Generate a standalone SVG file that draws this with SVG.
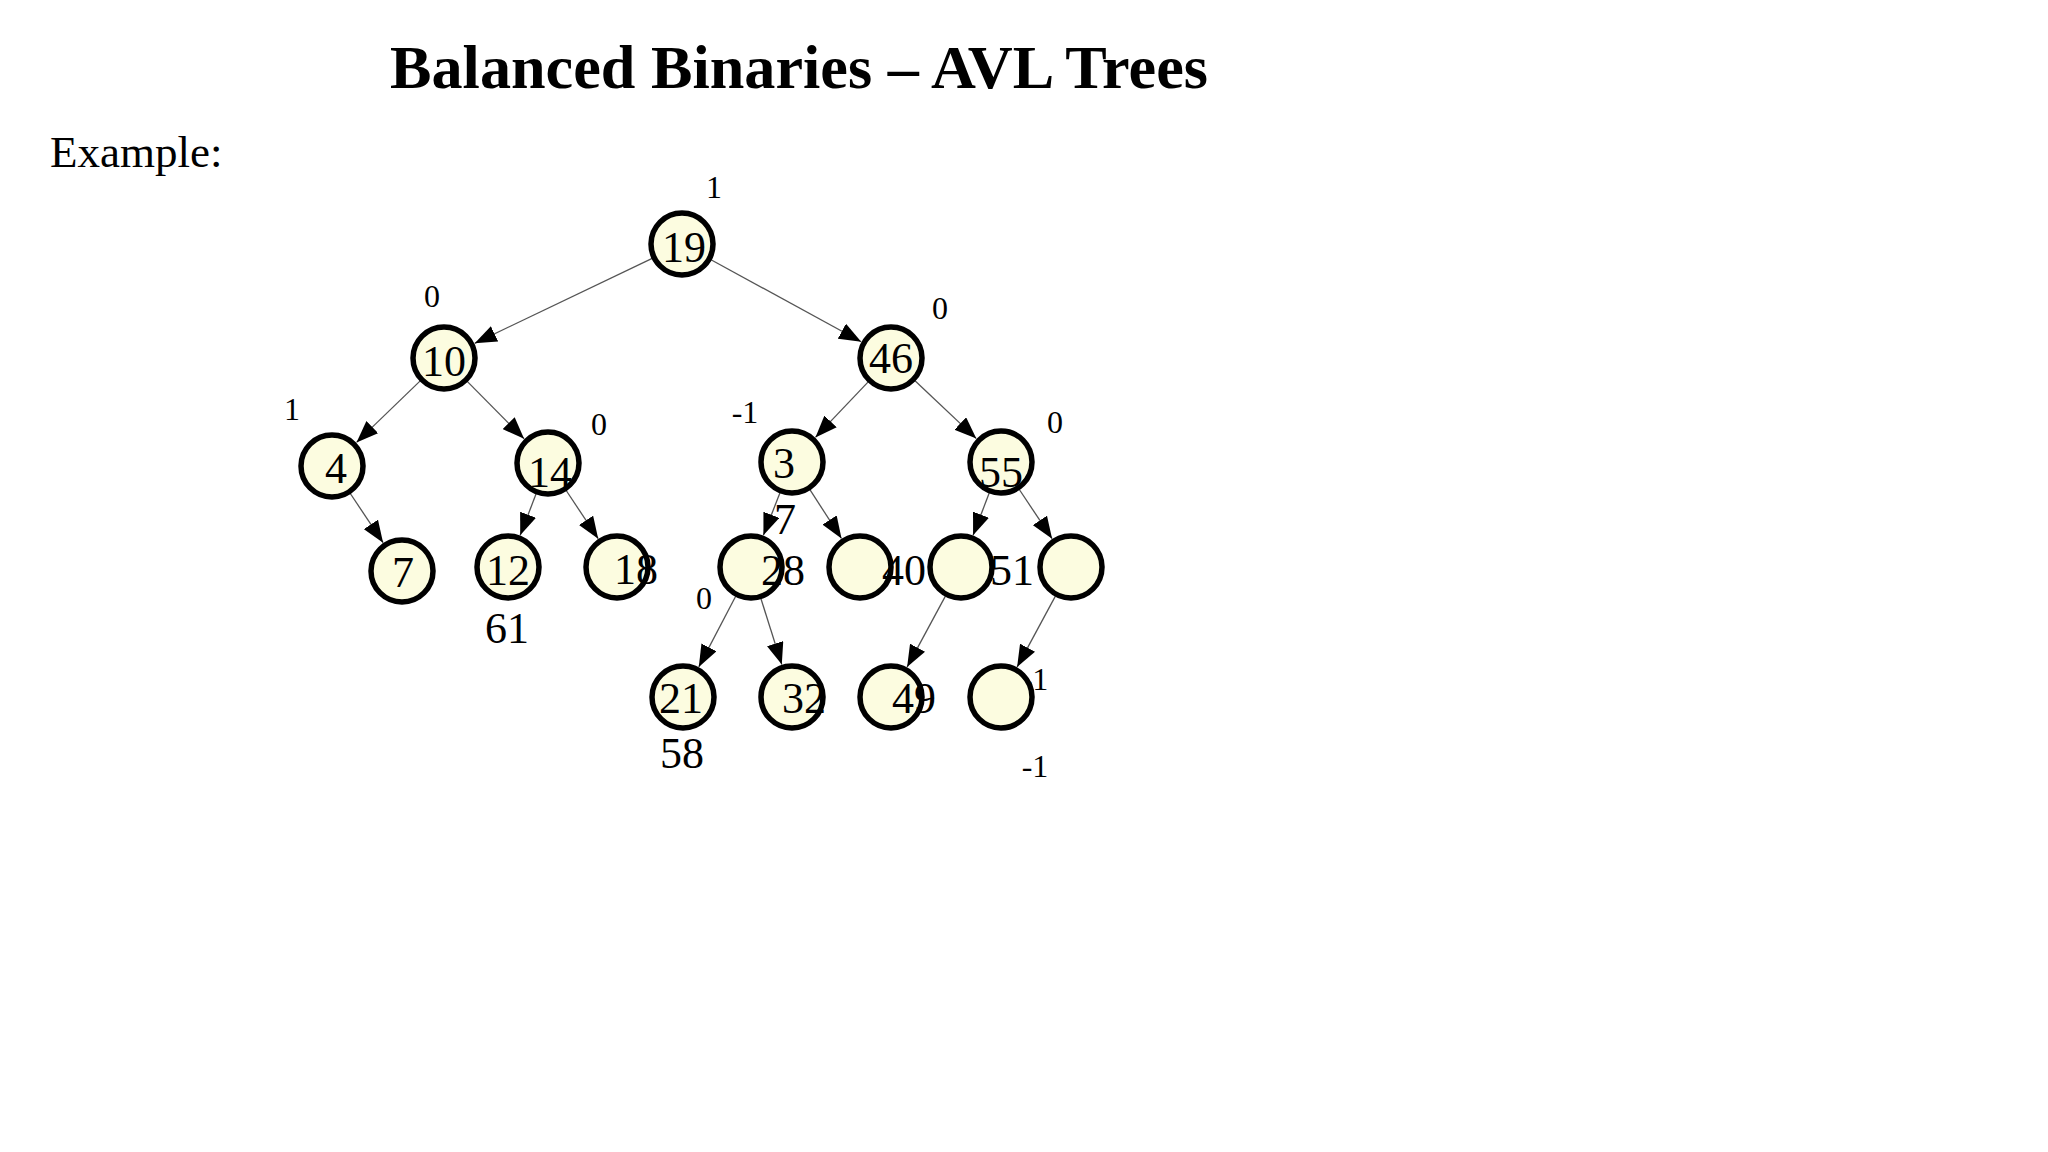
<svg xmlns="http://www.w3.org/2000/svg" width="2048" height="1152" viewBox="0 0 2048 1152">
<style>
.title{font-family:"Liberation Serif","Times New Roman",serif;font-weight:bold;font-size:62px;fill:#000}
.sub{font-family:"Liberation Serif","Times New Roman",serif;font-size:45px;fill:#000}
.node circle{fill:#FCFCE0;stroke:#000;stroke-width:5.5}
.lbl{font-family:"Liberation Serif","Times New Roman",serif;font-size:44px;fill:#000;text-anchor:middle}
.bf{font-family:"Liberation Serif","Times New Roman",serif;font-size:32px;fill:#000;text-anchor:middle}
.edges line{stroke:#555;stroke-width:1.3;marker-end:url(#arr)}
</style>
<defs>
<marker id="arr" markerUnits="userSpaceOnUse" markerWidth="22" markerHeight="17" refX="22" refY="8.5" orient="auto">
<path d="M0,0 L22,8.5 L0,17 z" fill="#000"/>
</marker>
</defs>
<rect width="2048" height="1152" fill="#fff"/>
<text class="title" x="390" y="88" textLength="818" lengthAdjust="spacingAndGlyphs">Balanced Binaries – AVL Trees</text>
<text class="sub" x="50" y="167">Example:</text>

<g id="connectors" class="edges">
<line x1="652.2" y1="258.3" x2="474.7" y2="343.3"/>
<line x1="711.0" y1="259.8" x2="861.2" y2="341.7"/>
<line x1="420.2" y1="380.9" x2="356.5" y2="442.4"/>
<line x1="467.2" y1="381.4" x2="524.1" y2="438.8"/>
<line x1="868.2" y1="381.9" x2="815.4" y2="437.4"/>
<line x1="915.0" y1="380.7" x2="976.3" y2="438.6"/>
<line x1="350.3" y1="493.5" x2="383.1" y2="542.7"/>
<line x1="536.1" y1="493.8" x2="520.2" y2="535.3"/>
<line x1="566.2" y1="490.5" x2="598.2" y2="538.7"/>
<line x1="780.0" y1="492.7" x2="763.4" y2="535.3"/>
<line x1="809.9" y1="489.7" x2="841.5" y2="538.5"/>
<line x1="989.3" y1="492.8" x2="973.1" y2="535.2"/>
<line x1="1019.3" y1="489.5" x2="1052.1" y2="538.7"/>
<line x1="735.7" y1="596.2" x2="698.8" y2="666.9"/>
<line x1="760.9" y1="598.5" x2="781.8" y2="664.6"/>
<line x1="945.4" y1="596.1" x2="907.1" y2="667.1"/>
<line x1="1055.4" y1="596.1" x2="1017.1" y2="667.1"/>
</g>

<g id="balance-hidden">
<text class="bf" x="1035" y="690">-1</text>
</g>

<g id="n19" class="node"><circle cx="682" cy="244" r="31"/><text class="lbl" x="684" y="262">19</text></g>
<g id="n10" class="node"><circle cx="444" cy="358" r="31"/><text class="lbl" x="444" y="376">10</text></g>
<g id="n46" class="node"><circle cx="891" cy="358" r="31"/><text class="lbl" x="891" y="373">46</text></g>
<g id="n4" class="node"><circle cx="332" cy="466" r="31"/><text class="lbl" x="336" y="483">4</text></g>
<g id="n14" class="node"><circle cx="548" cy="463" r="31"/><text class="lbl" x="550" y="487">14</text></g>
<g id="n3" class="node"><circle cx="792" cy="462" r="31"/><text class="lbl" x="784" y="478">3</text></g>
<g id="n55" class="node"><circle cx="1001" cy="462" r="31"/><text class="lbl" x="1001" y="487">55</text></g>
<g id="n7" class="node"><circle cx="402" cy="571" r="31"/><text class="lbl" x="403" y="587">7</text></g>
<g id="n12" class="node"><circle cx="508" cy="567" r="31"/><text class="lbl" x="508" y="585">12</text></g>
<g id="n18" class="node"><circle cx="617" cy="567" r="31"/><text class="lbl" x="636" y="584">18</text></g>
<g id="n28" class="node"><circle cx="751" cy="567" r="31"/><text class="lbl" x="783" y="585">28</text></g>
<g id="n40" class="node"><circle cx="860" cy="567" r="31"/><text class="lbl" x="904" y="585">40</text></g>
<g id="n51" class="node"><circle cx="961" cy="567" r="31"/><text class="lbl" x="1012" y="585">51</text></g>
<g id="nD" class="node"><circle cx="1071" cy="567" r="31"/></g>
<g id="n21" class="node"><circle cx="683" cy="697" r="31"/><text class="lbl" x="681" y="713">21</text></g>
<g id="n32" class="node"><circle cx="792" cy="697" r="31"/><text class="lbl" x="804" y="713">32</text></g>
<g id="n49" class="node"><circle cx="891" cy="697" r="31"/><text class="lbl" x="914" y="713">49</text></g>
<g id="nE" class="node"><circle cx="1001" cy="697" r="31"/></g>

<g id="free-labels">
<text class="lbl" x="785" y="534">7</text>
<text class="lbl" x="507" y="643">61</text>
<text class="lbl" x="682" y="768">58</text>
</g>

<g id="balance-factors">
<text class="bf" x="714" y="198">1</text>
<text class="bf" x="432" y="307">0</text>
<text class="bf" x="940" y="319">0</text>
<text class="bf" x="292" y="420">1</text>
<text class="bf" x="599" y="435">0</text>
<text class="bf" x="745" y="423">-1</text>
<text class="bf" x="1055" y="433">0</text>
<text class="bf" x="704" y="609">0</text>
<text class="bf" x="1035" y="777">-1</text>
</g>
</svg>
